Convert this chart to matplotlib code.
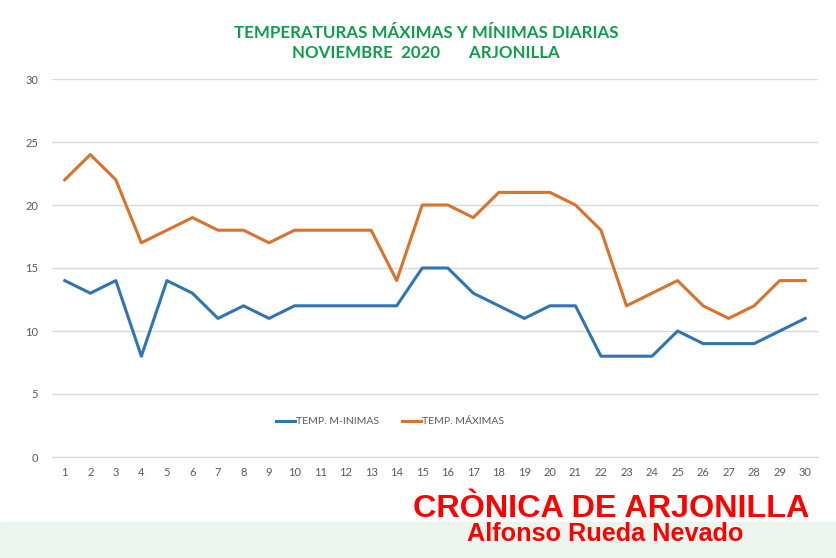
import numpy as np
import matplotlib.pyplot as plt
from matplotlib.patches import Rectangle

# datos del mes
dias = list(range(1, 31))
t_max = [22, 24, 22, 17, 18, 19, 18, 18, 17, 18, 18, 18, 18, 14, 20,
         20, 19, 21, 21, 21, 20, 18, 12, 13, 14, 12, 11, 12, 14, 14]
t_min = [14, 13, 14, 8, 14, 13, 11, 12, 11, 12, 12, 12, 12, 12, 15,
         15, 13, 12, 11, 12, 12, 8, 8, 8, 10, 9, 9, 9, 10, 11]
y_ticks = [0, 5, 10, 15, 20, 25, 30]

titulo = "TEMPERATURAS MÁXIMAS Y MÍNIMAS DIARIAS\nNOVIEMBRE  2020       ARJONILLA"

plt.rcParams['font.family'] = ['Lato', 'DejaVu Sans']

fig = plt.figure(figsize=(8.36, 5.58), dpi=100)
ax = fig.add_axes([52/836, 1-457/558, (818-52)/836, (457-79)/558])

ax.plot(dias, t_min, color='#2F75B5', lw=2.2, label='TEMP. M-INIMAS')
ax.plot(dias, t_max, color='#D9722A', lw=2.2, label='TEMP. MÁXIMAS')

ax.set_xlim(0.5, 30.5)
ax.set_ylim(0, 30)
ax.set_xticks(dias)
ax.set_yticks(y_ticks)
ax.grid(axis='y', color='#D9D9D9', lw=1)
ax.set_axisbelow(True)
for s in ['top', 'right', 'left']:
    ax.spines[s].set_visible(False)
ax.spines['bottom'].set_color('#D9D9D9')
ax.tick_params(length=0, labelsize=8, colors='#595959', pad=7)
ax.tick_params(axis='y', pad=10)

leg = ax.legend(loc='center', bbox_to_anchor=(0.441, 0.093), ncol=2, frameon=False,
                fontsize=7.5, handlelength=1.8, handletextpad=0.1, columnspacing=2.2)
for t in leg.get_texts():
    t.set_color('#595959')

fig.text(0.51, 1-43/558, titulo, ha='center', va='center', color='#0E9E4A',
         fontsize=12.2, fontweight='bold', linespacing=1.35)

# franja inferior con la firma
fig.patches.append(Rectangle((0, 0), 1, 36/558, transform=fig.transFigure,
                             color='#EDF5EF', zorder=0))
fig.text(611/836, 1-509/558, "CRÒNICA DE ARJONILLA", ha='center', va='center',
         color='#FF0000', fontsize=23.3, fontweight='bold',
         family=['Liberation Sans', 'DejaVu Sans'])
fig.text(605.5/836, 1-534/558, "Alfonso Rueda Nevado", ha='center', va='center',
         color='#FF0000', fontsize=18.2, fontweight='bold',
         family=['Liberation Sans', 'DejaVu Sans'])

fig.savefig('out.png', dpi=100)
